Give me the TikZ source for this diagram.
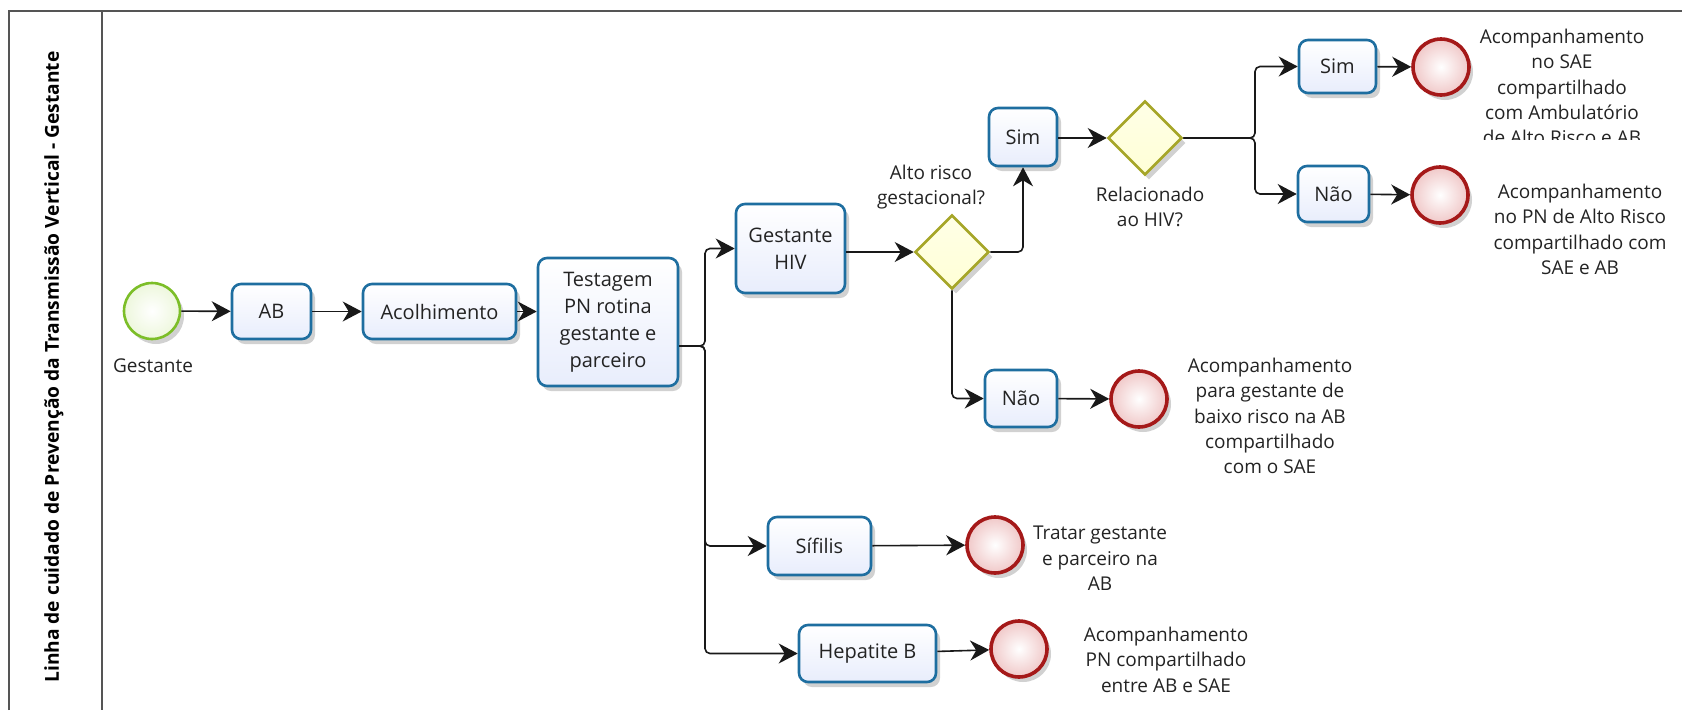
\documentclass[tikz,border=0pt]{standalone}
\usepackage{fontspec}
\setmainfont{Open Sans}
\usetikzlibrary{arrows.meta,shapes.geometric,shadows}
\definecolor{boxline}{RGB}{30,110,160}
\definecolor{boxfill}{RGB}{232,237,252}
\definecolor{gwline}{RGB}{166,166,40}
\definecolor{gwfill}{RGB}{255,255,214}
\definecolor{stline}{RGB}{124,190,40}
\definecolor{stfill}{RGB}{232,246,200}
\definecolor{enline}{RGB}{165,25,25}
\definecolor{enfill}{RGB}{240,200,200}
\definecolor{txt}{RGB}{35,35,35}
\definecolor{frame}{RGB}{85,85,85}
\tikzset{
  base/.style={font=\fontsize{19}{25.3}\selectfont, text=txt, align=center, inner sep=0pt},
  boxfont/.style={font=\fontsize{20}{27}\selectfont, text=txt, align=center, inner sep=0pt},
  sh/.style={drop shadow={shadow xshift=4pt, shadow yshift=-5pt, opacity=0.18, fill=black}},
  task/.style={boxfont, sh, draw=boxline, line width=2.6pt, rounded corners=9pt,
    top color=white, bottom color=boxfill, minimum width=#1},
  gw/.style={sh, diamond, draw=gwline, line width=2.6pt, top color=gwfill!60!white, bottom color=gwfill,
    minimum width=74pt, minimum height=74pt, inner sep=0pt, aspect=1},
  startev/.style={sh, circle, draw=stline, line width=2.6pt, inner color=white, outer color=stfill!80!stline!40,
    minimum size=56pt, inner sep=0pt},
  endev/.style={sh, circle, draw=enline, line width=3.6pt, inner color=white, outer color=enfill,
    minimum size=56pt, inner sep=0pt},
  lbl/.style={base},
  flow/.style={draw=black!90, line width=1.6pt, -{Stealth[length=19pt,width=20pt,inset=6pt]}, rounded corners=5pt},
}
\begin{document}
\begin{tikzpicture}[x=1pt,y=-1pt]
\useasboundingbox (0,0) rectangle (1682,710);
% frame
\draw[frame, line width=2pt] (8.6,710) -- (8.6,11) -- (1682,11);
\draw[frame, line width=2pt] (102,11) -- (102,710);
\node[rotate=90, font=\fontsize{19.2}{22}\selectfont\bfseries, text=black] (title) at (54,367)
  {Linha de cuidado de Prevenção da Transmissão Vertical - Gestante};

% nodes
\node[startev] (start) at (152,311) {};
\node[base] (lstart) at (153,366) {Gestante};
\node[task=79pt, minimum height=55pt] (ab) at (271.5,311.5) {AB};
\node[task=153pt, minimum height=55pt] (acol) at (439.5,311.5) {Acolhimento};
\node[task=140pt, minimum height=128pt] (test) at (608,322) {Testagem\\PN rotina\\gestante e\\parceiro};
\node[task=109pt, minimum height=89pt] (hiv) at (790.5,248.5) {Gestante\\HIV};
\node[gw] (g1) at (952,252) {};
\node[lbl] (lg1) at (931,187) {Alto risco\\gestacional?};
\node[task=68pt, minimum height=58pt] (sim1) at (1023,137) {Sim};
\node[gw] (g2) at (1145,138) {};
\node[lbl] (lg2) at (1150,207) {Relacionado\\ao HIV?};
\node[task=77pt, minimum height=53pt] (sim2) at (1337.5,66.5) {Sim};
\node[task=71pt, minimum height=56pt] (nao2) at (1333.5,194) {Não};
\node[endev] (e1) at (1441,67) {};
\node[endev] (e2) at (1440,195) {};
\begin{scope}
\clip (1470,14) rectangle (1682,139.5);
\node[lbl, anchor=north] (t1) at (1562,29) {Acompanhamento\\no SAE\\compartilhado\\com Ambulatório\\de Alto Risco e AB};
\end{scope}
\node[lbl, anchor=north] (t2) at (1580,184) {Acompanhamento\\no PN de Alto Risco\\compartilhado com\\SAE e AB};
\node[task=72pt, minimum height=57pt] (nao1) at (1021,398.5) {Não};
\node[endev] (e3) at (1139,399) {};
\node[lbl, anchor=north] (t3) at (1270,358) {Acompanhamento\\para gestante de\\baixo risco na AB\\compartilhado\\com o SAE};
\node[task=103pt, minimum height=58pt] (sif) at (819.5,546) {Sífilis};
\node[endev] (e4) at (995,545) {};
\node[lbl, anchor=north] (t4) at (1100,526) {Tratar gestante\\e parceiro na\\AB};
\node[task=137pt, minimum height=57pt] (hep) at (867.5,653.5) {Hepatite B};
\node[endev] (e5) at (1019,649) {};
\node[lbl, anchor=north] (t5) at (1166,627) {Acompanhamento\\PN compartilhado\\entre AB e SAE};

% connectors
\coordinate (split1) at (705,346);
\coordinate (split2) at (1255,138);
\draw[flow] (start) -- (ab);
\draw[flow] (ab) -- (acol);
\draw[flow] (acol) -- (acol -| test.west);
\draw[flow] (test.east |- split1) -- (split1) |- (hiv.west);
\draw[flow] (test.east |- split1) -- (split1) |- (sif.west);
\draw[flow] (test.east |- split1) -- (split1) |- (hep.west);
\draw[flow] (hiv.east |- g1) -- (g1.west);
\draw[flow] (g1.east) -| (sim1.south);
\draw[flow] (g1.south) |- (nao1.west);
\draw[flow] (sim1.east |- g2) -- (g2.west);
\draw[flow] (g2.east) -- (split2) |- (sim2.west);
\draw[flow] (g2.east) -- (split2) |- (nao2.west);
\draw[flow] (sim2) -- (e1);
\draw[flow] (nao2) -- (e2);
\draw[flow] (nao1) -- (e3);
\draw[flow] (sif) -- (e4);
\draw[flow] (hep) -- (e5);
\end{tikzpicture}
\end{document}
